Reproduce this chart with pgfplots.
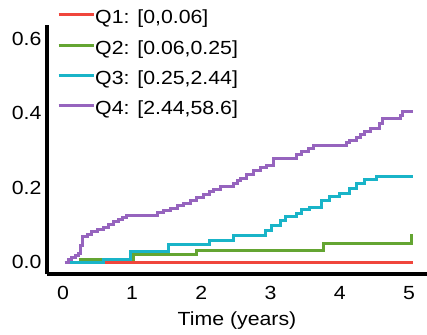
\documentclass[border=0pt]{standalone}
\usepackage{pgfplots}
\pgfplotsset{compat=1.18}
\usepackage{fontspec}
\setmainfont{Liberation Sans}[FakeStretch=1.12]
\definecolor{cRed}{RGB}{240,70,60}
\definecolor{cGreen}{RGB}{100,165,50}
\definecolor{cCyan}{RGB}{25,180,200}
\definecolor{cPurple}{RGB}{150,100,190}
\begin{document}
\begin{tikzpicture}[font=\fontsize{19}{22}\selectfont]
\begin{axis}[
  scale only axis, width=380pt, height=249pt,
  xmin=-0.23, xmax=5.26, ymin=-0.032, ymax=0.637,
  axis lines=left,
  axis line style={-, line width=4.5pt, black},
  xtick={0,1,2,3,4,5}, ytick={0,0.2,0.4,0.6},
  xticklabel={\pgfmathprintnumber[assume math mode=true]{\tick}},
  yticklabel={\pgfmathprintnumber[assume math mode=true,fixed,fixed zerofill,precision=1]{\tick}},
  major tick length=0pt, tick style={draw=none},
  xticklabel style={yshift=-9pt},
  yticklabel style={xshift=-2pt},
  tick label style={font=\fontsize{19}{22}\selectfont},
  xlabel={Time (years)},
  xlabel style={at={(axis description cs:0.5,0)}, anchor=center, yshift=-47pt, font=\fontsize{19}{22}\selectfont},
  legend cell align=left,
  legend image code/.code={\draw[#1] (0pt,3pt) -- (35pt,3pt);},
  legend style={draw=none, fill=none, inner sep=0pt, at={(rel axis cs:0,1)}, anchor=north west, xshift=10pt, yshift=15pt, row sep=15pt, nodes={inner sep=0pt}, font=\fontsize{19}{22}\selectfont, /tikz/every even column/.append style={column sep=3pt}},
  every axis plot/.append style={line width=3pt, const plot},
]
\addplot[cRed, line width=3pt] coordinates {(0.03,0) (5.06,0)};
\addplot[cGreen, line width=3pt] coordinates {(0.03,0) (0.25,0.008) (1.02,0.02) (1.93,0.032) (3.76,0.05) (5.04,0.05) (5.04,0.075)};
\addplot[cCyan, line width=3pt] coordinates {(0.03,0) (0.58,0.007) (0.97,0.028) (1.52,0.046) (2.12,0.057) (2.46,0.072) (2.92,0.086) (3.02,0.099) (3.14,0.113) (3.22,0.122) (3.38,0.131) (3.45,0.14) (3.56,0.148) (3.74,0.166) (3.85,0.175) (4.0,0.184) (4.14,0.198) (4.24,0.211) (4.36,0.222) (4.53,0.231) (5.06,0.231)};
\addplot[cPurple, line width=3pt] coordinates {(0.03,0) (0.08,0.006) (0.13,0.012) (0.18,0.018) (0.22,0.024) (0.25,0.045) (0.28,0.068) (0.36,0.075) (0.42,0.081) (0.5,0.088) (0.58,0.094) (0.66,0.101) (0.73,0.108) (0.80,0.114) (0.86,0.12) (0.92,0.126) (1.36,0.132) (1.45,0.138) (1.55,0.144) (1.65,0.151) (1.74,0.158) (1.84,0.166) (1.93,0.174) (2.03,0.182) (2.12,0.19) (2.18,0.196) (2.27,0.203) (2.46,0.21) (2.52,0.218) (2.56,0.225) (2.65,0.236) (2.75,0.247) (2.85,0.253) (2.94,0.26) (3.04,0.278) (3.38,0.29) (3.45,0.298) (3.55,0.306) (3.62,0.314) (4.10,0.322) (4.14,0.328) (4.24,0.334) (4.30,0.343) (4.36,0.35) (4.45,0.36) (4.58,0.372) (4.61,0.386) (4.88,0.395) (4.90,0.404) (5.06,0.404)};
\legend{Q1: {[0,0.06]}, Q2: {[0.06,0.25]}, Q3: {[0.25,2.44]}, Q4: {[2.44,58.6]}}
\coordinate (o) at (rel axis cs:0,0);
\end{axis}
\pgfresetboundingbox
\path[use as bounding box] (o) ++(-47pt,-60pt) rectangle ++(427pt,334pt);
\end{tikzpicture}
\end{document}
